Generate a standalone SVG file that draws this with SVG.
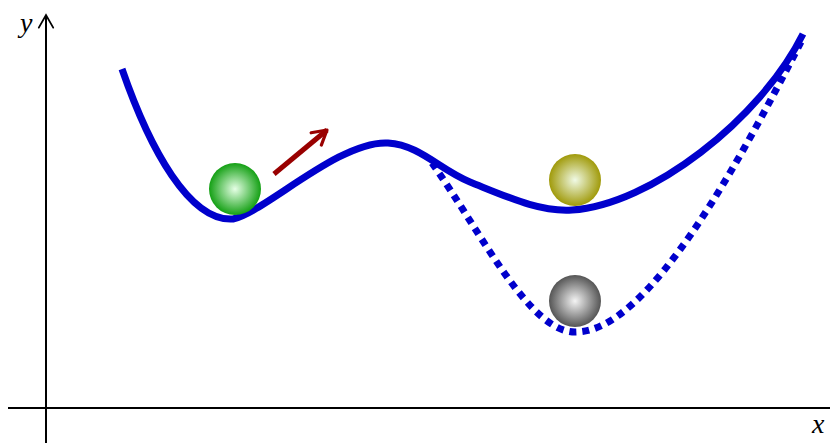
<svg xmlns="http://www.w3.org/2000/svg" width="830" height="444" viewBox="0 0 830 444">
<style>
.axis{stroke:#000;stroke-width:2;fill:none}
.lbl{font-family:"Liberation Serif","DejaVu Serif",serif;font-style:italic;font-size:28px;fill:#000}
.curve{stroke:#0000cc;stroke-width:7;fill:none}
.dot{stroke:#0000cc;stroke-width:7;fill:none;stroke-dasharray:7 6}
</style>
<defs>
<radialGradient id="gG" cx="0.5" cy="0.5" r="0.5"><stop offset="0" stop-color="#e6ffe6"/><stop offset="1" stop-color="#14a014"/></radialGradient>
<radialGradient id="gY" cx="0.5" cy="0.5" r="0.5"><stop offset="0" stop-color="#f0fae6"/><stop offset="1" stop-color="#a09a0a"/></radialGradient>
<radialGradient id="gK" cx="0.5" cy="0.5" r="0.5"><stop offset="0" stop-color="#f4f4f4"/><stop offset="1" stop-color="#555"/></radialGradient>
<marker id="ah" viewBox="0 0 10 10" refX="8" refY="5" markerWidth="4" markerHeight="4" orient="auto" markerUnits="strokeWidth"><path d="M1,1 L8,5 L1,9" fill="none" stroke="#990000" stroke-width="1.6" stroke-linecap="round" stroke-linejoin="round"/></marker>
<marker id="ak" viewBox="0 0 10 10" refX="8" refY="5" markerWidth="9" markerHeight="9" orient="auto" markerUnits="strokeWidth"><path d="M1,1 L8,5 L1,9" fill="none" stroke="#000" stroke-width="1" stroke-linecap="round"/></marker>
</defs>
<g id="axes">
<line class="axis" x1="8" y1="408" x2="830" y2="408"/>
<line class="axis" x1="46" y1="443" x2="46" y2="15" marker-end="url(#ak)"/>
<text class="lbl" x="812" y="433">x</text>
<text class="lbl" x="20" y="32">y</text>
</g>
<g id="connectors">
<path class="dot" d="M432,163 C480,230 530,335 577,332 C650,330 740,160 801,42"/>
<path class="curve" d="M122,69 C150,150 190,222 233,219 C265,212 340,140 388,143 C420,145 440,170 470,182 C510,198 540,212 572,210 C650,205 760,120 803,34"/>
<line x1="274" y1="174" x2="327" y2="130" stroke="#990000" stroke-width="5" marker-end="url(#ah)"/>
</g>
<g id="ball-green"><circle cx="235" cy="189" r="26" fill="url(#gG)"/></g>
<g id="ball-yellow"><circle cx="575" cy="180" r="26" fill="url(#gY)"/></g>
<g id="ball-gray"><circle cx="575" cy="301" r="26" fill="url(#gK)"/></g>
</svg>
